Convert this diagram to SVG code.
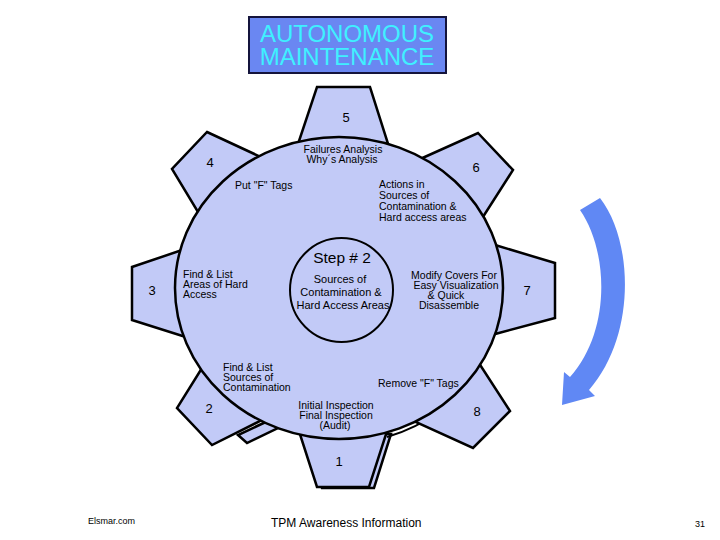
<svg xmlns="http://www.w3.org/2000/svg" width="720" height="540" viewBox="0 0 720 540">
<style>
.g{fill:#c2caf7;stroke:#000;stroke-width:2.5;stroke-linejoin:miter}
.t{font-family:"Liberation Sans",Arial,sans-serif;font-size:10.5px;fill:#000}
.n{font-family:"Liberation Sans",Arial,sans-serif;font-size:13px;fill:#000;text-anchor:middle}
.m{text-anchor:middle}
</style>
<rect width="720" height="540" fill="#fff"/>
<g id="title">
<rect x="249" y="17" width="197" height="56" fill="#6a87f2" stroke="#14143c" stroke-width="2"/>
<text x="347" y="42" font-family="'Liberation Sans',Arial,sans-serif" font-size="24" fill="#3ff0ff" text-anchor="middle">AUTONOMOUS</text>
<text x="347" y="65" font-family="'Liberation Sans',Arial,sans-serif" font-size="24" fill="#3ff0ff" text-anchor="middle">MAINTENANCE</text>
</g>
<g id="gear-back">
<polygon class="g" points="305,434 322,488 374,488 391,434"/>
<polygon class="g" points="238,435 247,443 280,427 270,420"/>
<path d="M440,411 A164 151 0 0 1 387,437" fill="none" stroke="#000" stroke-width="2"/>
</g>
<g id="tooth-5"><polygon class="g" points="317,87 370,87 390,150 296,150"/><text class="n" x="346" y="122">5</text></g>
<g id="tooth-4"><polygon class="g" points="207,132 263,158 201,217 172,169"/><text class="n" x="210" y="167">4</text></g>
<g id="tooth-6"><polygon class="g" points="478,133 513,170 481,220 418,160"/><text class="n" x="476" y="172">6</text></g>
<g id="tooth-7"><polygon class="g" points="495,245 555,263 555,318 495,334"/><text class="n" x="527" y="295">7</text></g>
<g id="tooth-3"><polygon class="g" points="188,248 132,267 132,320 192,339"/><text class="n" x="152" y="295">3</text></g>
<g id="tooth-2"><polygon class="g" points="207,360 177,408 212,445 268,417"/></g>
<g id="tooth-1"><polygon class="g" points="297,425 317,487 369,487 389,425"/><text class="n" x="339" y="466">1</text></g>
<g id="tooth-8"><polygon class="g" points="475,357 510,411 473,448 409,419"/></g>
<g id="gear-body">
<ellipse class="g" cx="339" cy="288" rx="164" ry="151"/>
</g>
<g id="tooth-labels">
<text class="n" x="209" y="413">2</text>
<text class="n" x="477" y="416">8</text>
</g>
<g id="center">
<ellipse cx="341.5" cy="290" rx="51.5" ry="52" fill="#c2caf7" stroke="#000" stroke-width="2"/>
<text class="t m" x="342" y="263" style="font-size:15.5px">Step # 2</text>
<text class="t m" x="340" y="283" style="font-size:11px">Sources of</text>
<text class="t m" x="341" y="296" style="font-size:11px">Contamination &amp;</text>
<text class="t m" x="343" y="309" style="font-size:11px">Hard Access Areas</text>
</g>
<g id="step-labels">
<text class="t m" x="343" y="153">Failures Analysis</text>
<text class="t m" x="342" y="163">Why´s Analysis</text>
<text class="t" x="235" y="189">Put "F" Tags</text>
<text class="t" x="379" y="188">Actions in</text>
<text class="t" x="379" y="199">Sources of</text>
<text class="t" x="379" y="210">Contamination &amp;</text>
<text class="t" x="379" y="221">Hard access areas</text>
<text class="t" x="183" y="278">Find &amp; List</text>
<text class="t" x="183" y="288">Areas of Hard</text>
<text class="t" x="183" y="298">Access</text>
<text class="t m" x="454" y="279">Modify Covers For</text>
<text class="t m" x="456" y="289">Easy Visualization</text>
<text class="t m" x="446" y="299">&amp; Quick</text>
<text class="t m" x="449" y="309">Disassemble</text>
<text class="t" x="223" y="371">Find &amp; List</text>
<text class="t" x="223" y="381">Sources of</text>
<text class="t" x="223" y="391">Contamination</text>
<text class="t" x="378" y="387">Remove "F" Tags</text>
<text class="t m" x="336" y="409">Initial Inspection</text>
<text class="t m" x="336" y="419">Final Inspection</text>
<text class="t m" x="335" y="429">(Audit)</text>
</g>
<g id="connectors">
<path d="M580,210 L600,198 C633,240 637,335 589,390 L595,396 L562,405 L564,372 L570,377 C612,330 608,250 580,210 Z" fill="#6088f4"/>
</g>
<g id="footer">
<text x="88" y="524" font-family="'Liberation Sans',Arial,sans-serif" font-size="9" fill="#000">Elsmar.com</text>
<text x="271" y="527" font-family="'Liberation Sans',Arial,sans-serif" font-size="12" fill="#000">TPM Awareness Information</text>
<text x="695" y="527" font-family="'Liberation Sans',Arial,sans-serif" font-size="9" fill="#000">31</text>
</g>
</svg>
